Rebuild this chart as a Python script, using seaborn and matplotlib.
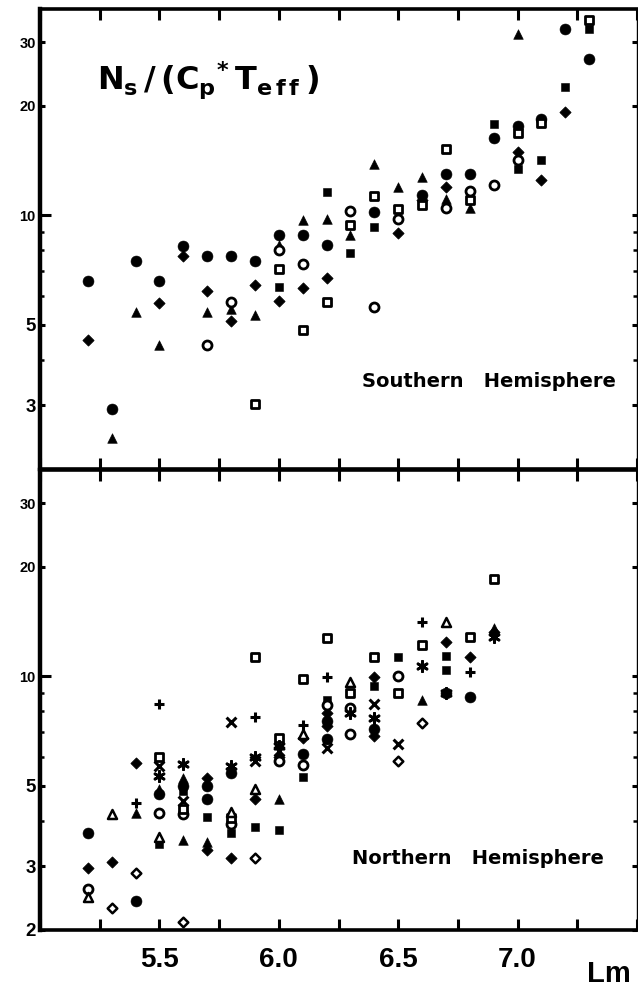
import matplotlib
matplotlib.use("Agg")
import matplotlib.pyplot as plt
from matplotlib.ticker import FixedLocator, FixedFormatter, MultipleLocator, NullFormatter
import seaborn as sns

# ---------------- Southern Hemisphere (Lm, Ns/(Cp*Teff)) ----------------
S_FILLED_CIRCLE_LM = [5.2, 5.3, 5.4, 5.5, 5.6, 5.7, 5.8, 5.9, 6.0, 6.1, 6.2, 6.4, 6.6, 6.7, 6.8, 6.9, 7.0, 7.1, 7.2, 7.3]
S_FILLED_CIRCLE_VAL = [6.6, 2.93, 7.5, 6.6, 8.25, 7.7, 7.7, 7.5, 8.85, 8.85, 8.3, 10.2, 11.4, 13.0, 13.0, 16.3, 17.6, 18.4, 32.6, 26.9]

S_FILLED_DIAMOND_LM = [5.2, 5.5, 5.6, 5.7, 5.8, 5.9, 6.0, 6.1, 6.2, 6.5, 6.6, 6.7, 7.0, 7.1, 7.2]
S_FILLED_DIAMOND_VAL = [4.52, 5.73, 7.7, 6.2, 5.1, 6.43, 5.8, 6.3, 6.7, 8.95, 11.0, 12.0, 14.9, 12.5, 19.3]

S_FILLED_TRIANGLE_LM = [5.3, 5.4, 5.5, 5.7, 5.8, 5.9, 6.0, 6.1, 6.2, 6.3, 6.4, 6.5, 6.6, 6.7, 6.8, 7.0]
S_FILLED_TRIANGLE_VAL = [2.43, 5.4, 4.4, 5.4, 5.52, 5.3, 8.3, 9.7, 9.75, 8.85, 13.8, 11.95, 12.75, 11.1, 10.5, 31.6]

S_FILLED_SQUARE_LM = [6.0, 6.2, 6.3, 6.4, 6.9, 7.0, 7.1, 7.2, 7.3]
S_FILLED_SQUARE_VAL = [6.35, 11.6, 7.85, 9.26, 17.8, 13.4, 14.2, 22.5, 32.6]

S_OPEN_CIRCLE_LM = [5.7, 5.8, 6.0, 6.1, 6.3, 6.4, 6.5, 6.7, 6.8, 6.9, 7.0]
S_OPEN_CIRCLE_VAL = [4.4, 5.77, 8.0, 7.35, 10.3, 5.6, 9.75, 10.45, 11.65, 12.1, 14.2]

S_OPEN_SQUARE_LM = [5.9, 6.0, 6.1, 6.2, 6.3, 6.4, 6.5, 6.6, 6.7, 6.8, 7.0, 7.1, 7.3]
S_OPEN_SQUARE_VAL = [3.03, 7.1, 4.83, 5.77, 9.4, 11.3, 10.4, 10.7, 15.2, 11.0, 16.8, 17.9, 34.4]

# ---------------- Northern Hemisphere (Lm, Ns/(Cp*Teff)) ----------------
N_FILLED_CIRCLE_LM = [5.2, 5.4, 5.5, 5.6, 5.7, 5.7, 5.8, 6.1, 6.2, 6.2, 6.4, 6.7, 6.8]
N_FILLED_CIRCLE_VAL = [3.7, 2.4, 4.75, 5.0, 5.0, 4.58, 5.4, 6.1, 7.55, 6.73, 7.17, 9.0, 8.75]

N_FILLED_DIAMOND_LM = [5.2, 5.3, 5.4, 5.7, 5.7, 5.8, 5.9, 6.0, 6.1, 6.2, 6.2, 6.4, 6.4, 6.7, 6.8, 6.9]
N_FILLED_DIAMOND_VAL = [2.96, 3.08, 5.77, 5.24, 3.33, 3.16, 4.58, 6.0, 6.77, 7.94, 7.3, 9.95, 6.86, 12.4, 11.3, 13.2]

N_FILLED_TRIANGLE_LM = [5.4, 5.5, 5.6, 5.6, 5.7, 6.0, 6.6, 6.9]
N_FILLED_TRIANGLE_VAL = [4.19, 4.9, 5.24, 3.55, 3.5, 4.58, 8.58, 13.6]

N_FILLED_SQUARE_LM = [5.5, 5.6, 5.7, 5.8, 5.9, 6.0, 6.1, 6.2, 6.4, 6.5, 6.7, 6.7]
N_FILLED_SQUARE_VAL = [3.45, 4.83, 4.1, 3.69, 3.85, 3.78, 5.27, 8.6, 9.4, 11.3, 11.4, 10.4]

N_OPEN_CIRCLE_LM = [5.2, 5.5, 5.6, 5.8, 6.0, 6.1, 6.2, 6.3, 6.3, 6.5]
N_OPEN_CIRCLE_VAL = [2.59, 4.19, 4.17, 3.93, 5.85, 5.7, 8.31, 8.2, 6.94, 10.0]

N_OPEN_SQUARE_LM = [5.5, 5.6, 5.8, 5.9, 6.0, 6.1, 6.2, 6.3, 6.4, 6.5, 6.6, 6.8, 6.9]
N_OPEN_SQUARE_VAL = [6.0, 4.3, 4.07, 11.3, 6.77, 9.85, 12.75, 9.0, 11.3, 9.0, 12.2, 12.8, 18.5]

N_OPEN_TRIANGLE_LM = [5.2, 5.3, 5.5, 5.8, 5.9, 6.1, 6.3, 6.7]
N_OPEN_TRIANGLE_VAL = [2.47, 4.17, 3.6, 4.24, 4.89, 6.94, 9.62, 14.1]

N_OPEN_DIAMOND_LM = [5.3, 5.4, 5.6, 5.9, 6.5, 6.6]
N_OPEN_DIAMOND_VAL = [2.30, 2.87, 2.11, 3.16, 5.85, 7.45]

N_PLUS_LM = [5.4, 5.5, 5.9, 6.1, 6.2, 6.6, 6.8]
N_PLUS_VAL = [4.49, 8.41, 7.70, 7.36, 9.95, 14.1, 10.3]

N_CROSS_LM = [5.5, 5.6, 5.8, 5.9, 6.0, 6.2, 6.4, 6.5]
N_CROSS_VAL = [5.67, 4.52, 7.5, 5.85, 6.23, 6.35, 8.41, 6.52]

N_ASTERISK_LM = [5.5, 5.6, 5.8, 5.9, 6.0, 6.3, 6.4, 6.6, 6.7, 6.9]
N_ASTERISK_VAL = [5.3, 5.73, 5.66, 6.0, 6.43, 7.94, 7.65, 10.7, 9.0, 12.8]

# axis ticks / labels
X_LABEL_TICKS = [5.5, 6.0, 6.5, 7.0]
S_Y_TICKS = [3, 5, 10, 20, 30]
N_Y_TICKS = [2, 3, 5, 10, 20, 30]
Y_MINOR = [4, 6, 7, 8, 9]
TITLE = r"$N_{s}\,/\,(C_{p}{}^{*}\,T_{e\,f\,f}\,)$"
SOUTH_LABEL = "Southern   Hemisphere"
NORTH_LABEL = "Northern   Hemisphere"
X_NAME = "Lm"

sns.set_style("ticks")
plt.rcParams["font.family"] = ["Liberation Sans", "DejaVu Sans"]
plt.rcParams["font.weight"] = "bold"
for key in ("text.color", "axes.labelcolor", "xtick.color", "ytick.color", "axes.edgecolor"):
    plt.rcParams[key] = "black"
plt.rcParams["mathtext.fontset"] = "custom"
plt.rcParams["mathtext.rm"] = "DejaVu Sans:bold"
plt.rcParams["mathtext.it"] = "DejaVu Sans:bold"
plt.rcParams["mathtext.bf"] = "DejaVu Sans:bold"

# marker styles: (marker, size, face, linewidth)
STYLE = {
    "filled_circle": dict(marker="o", s=62, facecolor="black", linewidth=0.4),
    "filled_diamond": dict(marker="D", s=32, facecolor="black", linewidth=0.6),
    "filled_triangle": dict(marker="^", s=48, facecolor="black", linewidth=0.4),
    "filled_square": dict(marker="s", s=38, facecolor="black", linewidth=0.4),
    "open_circle": dict(marker="o", s=42, facecolor="white", linewidth=2.0),
    "open_square": dict(marker="s", s=38, facecolor="white", linewidth=2.0),
    "open_triangle": dict(marker="^", s=42, facecolor="white", linewidth=1.8),
    "open_diamond": dict(marker="D", s=24, facecolor="white", linewidth=1.8),
    "plus": dict(marker="+", s=55, linewidth=2.2),
    "cross": dict(marker="x", s=50, linewidth=2.2),
    "asterisk": dict(marker=(6, 2, 0), s=55, linewidth=2.0),
}

south = [
    ("filled_circle", S_FILLED_CIRCLE_LM, S_FILLED_CIRCLE_VAL),
    ("filled_diamond", S_FILLED_DIAMOND_LM, S_FILLED_DIAMOND_VAL),
    ("filled_triangle", S_FILLED_TRIANGLE_LM, S_FILLED_TRIANGLE_VAL),
    ("filled_square", S_FILLED_SQUARE_LM, S_FILLED_SQUARE_VAL),
    ("open_circle", S_OPEN_CIRCLE_LM, S_OPEN_CIRCLE_VAL),
    ("open_square", S_OPEN_SQUARE_LM, S_OPEN_SQUARE_VAL),
]
north = [
    ("filled_circle", N_FILLED_CIRCLE_LM, N_FILLED_CIRCLE_VAL),
    ("filled_diamond", N_FILLED_DIAMOND_LM, N_FILLED_DIAMOND_VAL),
    ("filled_triangle", N_FILLED_TRIANGLE_LM, N_FILLED_TRIANGLE_VAL),
    ("filled_square", N_FILLED_SQUARE_LM, N_FILLED_SQUARE_VAL),
    ("open_circle", N_OPEN_CIRCLE_LM, N_OPEN_CIRCLE_VAL),
    ("open_square", N_OPEN_SQUARE_LM, N_OPEN_SQUARE_VAL),
    ("open_triangle", N_OPEN_TRIANGLE_LM, N_OPEN_TRIANGLE_VAL),
    ("open_diamond", N_OPEN_DIAMOND_LM, N_OPEN_DIAMOND_VAL),
    ("plus", N_PLUS_LM, N_PLUS_VAL),
    ("cross", N_CROSS_LM, N_CROSS_VAL),
    ("asterisk", N_ASTERISK_LM, N_ASTERISK_VAL),
]

W, H = 638, 989
fig = plt.figure(figsize=(W / 100, H / 100), dpi=100)
left, right = 40, 637
ax_s = fig.add_axes([left / W, 1 - 469 / H, (right - left) / W, (469 - 9) / H])
ax_n = fig.add_axes([left / W, 1 - 930 / H, (right - left) / W, (930 - 470) / H])


def draw_panel(ax, groups, yticks, show_xlabels):
    for name, lm, val in groups:
        st = dict(STYLE[name])
        sns.scatterplot(x=lm, y=val, ax=ax, color="black", edgecolor="black",
                        legend=False, zorder=3, clip_on=False, **st)
    ax.set_yscale("log")
    ax.set_xlim(5.0, 7.5)
    ax.set_ylim(2.0, 37.0)
    ax.set_xlabel("")
    ax.set_ylabel("")

    ax.xaxis.set_major_locator(FixedLocator(X_LABEL_TICKS))
    ax.xaxis.set_minor_locator(MultipleLocator(0.25))
    ax.xaxis.set_minor_formatter(NullFormatter())
    if show_xlabels:
        ax.xaxis.set_major_formatter(FixedFormatter([f"{t:.1f}" for t in X_LABEL_TICKS]))
    else:
        ax.xaxis.set_major_formatter(NullFormatter())
    ax.tick_params(axis="x", which="both", direction="in", length=8, width=2.2,
                   top=True, bottom=True, labelsize=20, pad=12, colors="black")

    ax.yaxis.set_major_locator(FixedLocator(yticks))
    ax.yaxis.set_major_formatter(FixedFormatter([str(t) for t in yticks]))
    ax.yaxis.set_minor_locator(FixedLocator(Y_MINOR))
    ax.yaxis.set_minor_formatter(NullFormatter())
    ax.tick_params(axis="y", which="major", direction="in", length=3.5, width=2.2,
                   left=True, right=True, labelsize=10.5, pad=3, colors="black")
    ax.tick_params(axis="y", which="minor", direction="in", length=3, width=1.8,
                   left=True, right=True, colors="black")
    for tick, val in zip(ax.yaxis.get_major_ticks(), yticks):
        if val == 10:
            tick.tick1line.set_markersize(8)
    for lab in ax.get_yticklabels():
        lab.set_fontweight("heavy")
        if lab.get_text() in ("2", "3", "5"):
            lab.set_fontsize(13.5)
    for lab in ax.get_xticklabels():
        lab.set_fontweight("heavy")

    for side, lw in (("left", 3.2), ("bottom", 2.6), ("top", 2.6), ("right", 1.0)):
        ax.spines[side].set_linewidth(lw)
        ax.spines[side].set_color("black")


draw_panel(ax_s, south, S_Y_TICKS, False)
draw_panel(ax_n, north, N_Y_TICKS, True)

fig.text(97 / W, 1 - 80 / H, TITLE, fontsize=23, ha="left", va="center")
fig.text(362 / W, 1 - 382 / H, SOUTH_LABEL, fontsize=14, fontweight="bold",
         family="DejaVu Sans", ha="left", va="center")
fig.text(352 / W, 1 - 859 / H, NORTH_LABEL, fontsize=14, fontweight="bold",
         family="DejaVu Sans", ha="left", va="center")
fig.text(587 / W, 1 - 982 / H, X_NAME, fontsize=21, fontweight="bold",
         ha="left", va="baseline")

fig.savefig("out.png", dpi=100, facecolor="white")
